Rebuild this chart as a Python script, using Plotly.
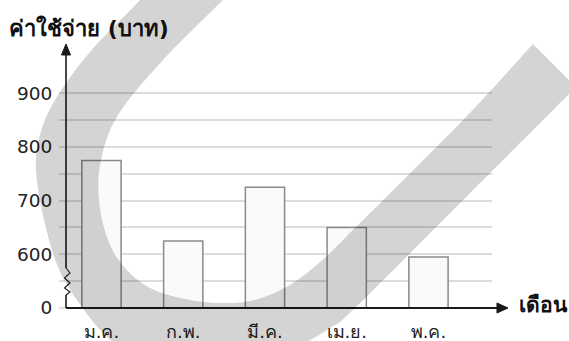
import plotly.graph_objects as go

# ---- data ----
months = ["ม.ค.", "ก.พ.", "มี.ค.", "เม.ย.", "พ.ค."]
expenses = [775, 625, 725, 650, 595]
tick_values = [500, 550, 600, 650, 700, 750, 800, 850, 900]
tick_labels = ["0", "", "600", "", "700", "", "800", "", "900"]
y_title = "ค่าใช้จ่าย (บาท)"
x_title = "เดือน"

# ---- layout helpers (pixel -> paper) ----
W_FIG, H_FIG = 569, 341
ML, MR, MT, MB = 66, 77, 45, 33
PW = W_FIG - ML - MR
PH = H_FIG - MT - MB


def px(x):
    return (x - ML) / PW


def py(y):
    return (H_FIG - MB - y) / PH


def pt(x, y):
    return f"{px(x):.4f},{py(y):.4f}"


def smooth(points):
    """Catmull-Rom through pixel points -> cubic bezier path segments (no leading M)."""
    segs = []
    n = len(points)
    for i in range(n - 1):
        p0 = points[i - 1] if i > 0 else points[i]
        p1 = points[i]
        p2 = points[i + 1]
        p3 = points[i + 2] if i + 2 < n else points[i + 1]
        c1 = (p1[0] + (p2[0] - p0[0]) / 6, p1[1] + (p2[1] - p0[1]) / 6)
        c2 = (p2[0] - (p3[0] - p1[0]) / 6, p2[1] - (p3[1] - p1[1]) / 6)
        segs.append(f"C {pt(*c1)} {pt(*c2)} {pt(*p2)}")
    return " ".join(segs)


FONT = "'DejaVu Sans', Tahoma, 'Liberation Sans', sans-serif"

fig = go.Figure(
    go.Bar(
        x=months,
        y=expenses,
        width=0.48,
        marker=dict(color="#fafafa", line=dict(color="#8a8a8a", width=1.5)),
        hoverinfo="x+y",
    )
)

AX = "#1a1a1a"
shapes = []
# x axis line + arrow
shapes.append(dict(type="line", xref="paper", yref="paper",
                   x0=px(66), y0=py(308), x1=px(499), y1=py(308),
                   line=dict(color=AX, width=2)))
shapes.append(dict(type="path", xref="paper", yref="paper",
                   path=f"M {pt(497,303)} L {pt(508,308)} L {pt(497,313)} Z",
                   fillcolor=AX, line=dict(color=AX, width=1)))
# y axis: lower piece, zigzag break, upper piece + arrow
shapes.append(dict(type="line", xref="paper", yref="paper",
                   x0=px(66), y0=py(308), x1=px(66), y1=py(295),
                   line=dict(color=AX, width=1.6)))
shapes.append(dict(type="path", xref="paper", yref="paper",
                   path=(f"M {pt(66,295)} L {pt(70,292)} L {pt(64.5,288)} L {pt(70,283)} "
                         f"L {pt(64.5,278)} L {pt(70,273)} L {pt(66,268)}"),
                   line=dict(color=AX, width=1.1)))
shapes.append(dict(type="line", xref="paper", yref="paper",
                   x0=px(66), y0=py(268), x1=px(66), y1=py(54),
                   line=dict(color=AX, width=1.6)))
shapes.append(dict(type="path", xref="paper", yref="paper",
                   path=f"M {pt(61.5,55)} L {pt(66,44)} L {pt(70.5,55)} Z",
                   fillcolor=AX, line=dict(color=AX, width=1)))

# watermark band: translucent filled outline (decoration, traced in pixels)
wm_inner = [(248, -25), (223, 0), (163, 60), (118, 115), (101, 160), (99, 200),
            (108, 240), (125, 268), (150, 288), (185, 299), (222, 303), (255, 300),
            (290, 285), (320, 262), (345, 238), (463, 120), (533, 44)]
wm_outer = [(576, 87), (503, 160), (360, 303), (330, 328), (290, 350), (240, 365),
            (180, 365), (135, 355), (105, 335), (77, 300), (58, 267), (44, 220),
            (36, 170), (40, 135), (55, 100), (90, 52), (140, 0), (160, -25)]
wm_path = (f"M {pt(*wm_inner[0])} {smooth(wm_inner)} "
           f"L {pt(*wm_outer[0])} {smooth(wm_outer)} Z")
shapes.append(dict(type="path", xref="paper", yref="paper", path=wm_path,
                   fillcolor="rgba(0,0,0,0.17)", layer="above",
                   line=dict(width=0)))

fig.update_layout(
    width=W_FIG, height=H_FIG,
    margin=dict(l=ML, r=MR, t=MT, b=MB, pad=0, autoexpand=False),
    paper_bgcolor="white", plot_bgcolor="white",
    showlegend=False,
    font=dict(family=FONT, size=18, color="#222"),
    xaxis=dict(
        type="category",
        range=[-0.434, 4.777],
        automargin=False,
        showgrid=False, zeroline=False, showline=False,
        ticks="", ticklabelstandoff=11,
        tickfont=dict(family=FONT, size=18, color="#222"),
        fixedrange=True,
    ),
    yaxis=dict(
        range=[500, 990],
        automargin=False,
        tickvals=tick_values, ticktext=tick_labels,
        showgrid=True, gridcolor="#dcdcdc", gridwidth=1.5,
        zeroline=False, showline=False,
        ticks="outside", ticklen=6, tickcolor="#dcdcdc", tickwidth=1.5,
        ticklabelstandoff=3,
        tickfont=dict(family=FONT, size=18.5, color="#222"),
        fixedrange=True,
    ),
    shapes=shapes,
    annotations=[
        dict(text=f"<b>{y_title}</b>", xref="paper", yref="paper",
             x=px(7), y=py(28), xanchor="left", yanchor="middle",
             showarrow=False, font=dict(family=FONT, size=22, color="#111")),
        dict(text=f"<b>{x_title}</b>", xref="paper", yref="paper",
             x=px(517), y=py(305), xanchor="left", yanchor="middle",
             showarrow=False, font=dict(family=FONT, size=21, color="#111")),
    ],
)

fig.write_html(
    "out.html",
    config={"displayModeBar": False},
    post_script="document.body.style.margin='0';",
)
